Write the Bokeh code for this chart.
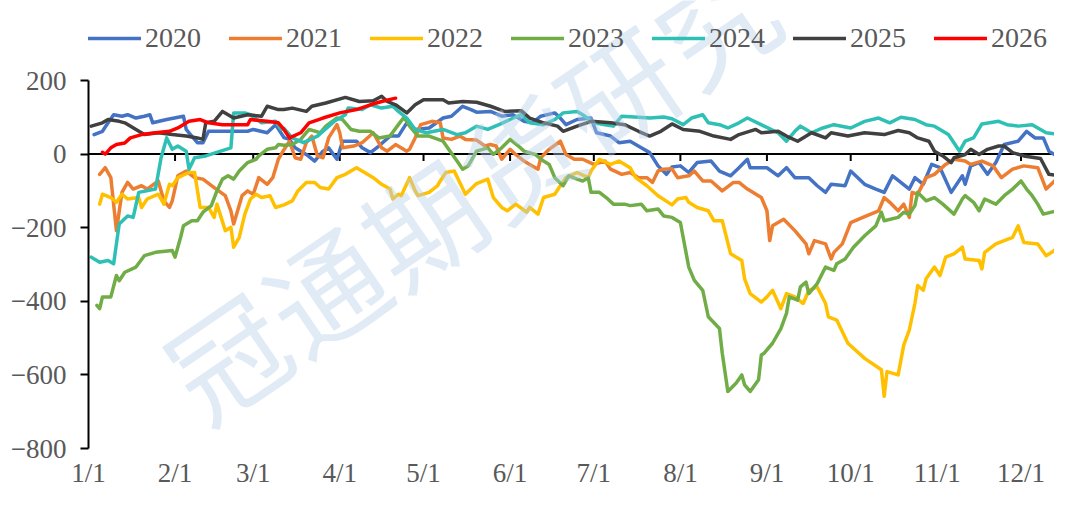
from bokeh.plotting import figure
from bokeh.models import Range1d, FixedTicker, Legend, LegendItem, Span, Label
from bokeh.embed import file_html
from bokeh.resources import INLINE
from bokeh.core.properties import value

# ---- data: x = days since Jan 1, y = spread value ----
years = ["2020", "2021", "2022", "2023", "2024", "2025", "2026"]
colors = ["#4472C4", "#ED7D31", "#FFC000", "#70AD47", "#2EC0B5", "#404040", "#FF0000"]

d2020 = [2,5,7,9,12,14,17,20,22,23,28,34,35,36,39,41,43,50,57,59,64,67,70,72,74,78,81,84,86,89,91,96,98,101,104,108,111,114,117,122,127,130,134,137,139,144,148,152,156,159,162,167,169,171,175,180,182,187,190,194,198,201,204,207,209,212,215,218,223,226,230,233,236,237,243,247,250,253,258,261,264,266,271,273,278,282,285,288,294,296,299,302,305,309,313,314,316,319,322,325,328,333,336,339,342,344,348]
v2020 = [53,62,85,107,103,107,98,103,107,85,94,103,67,58,31,31,62,62,62,67,58,80,45,40,17,-1,-19,8,17,-14,35,35,17,4,22,49,49,85,67,71,98,103,130,121,114,116,103,107,89,85,103,112,98,80,94,98,58,49,31,35,17,4,-32,-55,-35,-32,-50,-23,-19,-46,-59,-37,-14,-37,-37,-59,-37,-64,-64,-86,-104,-82,-86,-46,-82,-95,-104,-59,-95,-64,-82,-28,-37,-104,-59,-82,-32,-23,-55,-23,26,35,62,44,44,8,-10]

d2021 = [4,6,8,10,12,14,16,19,21,25,27,29,30,32,35,38,41,45,49,51,52,55,57,59,61,64,66,68,70,72,74,76,78,80,82,84,86,89,90,91,95,98,102,105,107,110,114,115,117,119,123,126,127,130,133,135,139,142,144,146,148,151,153,156,158,161,162,165,169,171,174,177,181,185,187,191,194,197,200,202,204,206,209,211,215,217,220,223,227,231,233,236,241,243,244,245,249,253,257,258,260,264,266,267,270,273,278,283,285,287,290,292,294,295,297,300,303,307,310,314,316,320,324,327,331,335,340,343,346,348]
v2021 = [-55,-37,-64,-208,-104,-77,-95,-86,-95,-73,-127,-145,-127,-59,-46,-64,-68,-91,-113,-154,-190,-113,-100,-109,-64,-82,-64,-14,12,35,-10,-14,31,49,-5,-10,44,80,58,17,22,31,58,17,8,26,8,13,44,80,89,85,44,40,49,40,38,22,26,22,-14,13,-1,-19,-28,-41,-10,13,35,-1,-14,-14,-28,-19,-41,-55,-50,-64,-64,-77,-46,-41,-40,-64,-59,-46,-73,-73,-100,-77,-77,-95,-118,-154,-235,-195,-177,-208,-244,-271,-235,-244,-285,-267,-244,-186,-170,-154,-118,-131,-154,-136,-172,-104,-109,-64,-55,-28,-14,-19,-28,-19,-32,-64,-41,-32,-37,-95,-73,-64]

d2022 = [4,5,8,10,12,14,18,19,21,25,27,29,30,32,36,38,40,43,45,46,49,51,52,54,56,58,60,62,65,67,70,73,75,78,81,83,86,89,92,96,98,102,105,108,109,111,112,115,117,118,122,125,126,128,131,135,139,143,145,148,150,153,157,158,161,163,167,169,171,175,179,180,183,187,190,194,196,200,204,209,211,214,215,218,222,224,227,230,234,235,237,241,243,245,248,250,253,256,258,261,264,265,268,272,278,284,285,286,290,292,294,296,297,299,300,303,305,307,310,313,314,319,320,321,325,328,331,333,335,340,343,345,348]
v2022 = [-136,-109,-118,-131,-109,-122,-118,-145,-122,-109,-136,-82,-86,-64,-50,-50,-145,-145,-172,-136,-208,-199,-253,-226,-163,-122,-109,-118,-113,-145,-138,-127,-100,-77,-77,-91,-95,-64,-55,-37,-46,-64,-82,-95,-122,-109,-113,-64,-100,-113,-104,-86,-73,-50,-46,-109,-80,-68,-118,-145,-154,-136,-158,-145,-163,-118,-109,-86,-64,-50,-64,-46,-14,-28,-19,-37,-64,-86,-113,-138,-122,-118,-131,-145,-154,-181,-181,-271,-289,-339,-379,-402,-388,-370,-420,-379,-388,-406,-370,-361,-406,-442,-451,-514,-555,-586,-658,-591,-600,-519,-478,-406,-357,-370,-339,-307,-330,-280,-271,-253,-285,-289,-312,-267,-244,-235,-226,-195,-240,-244,-276,-267,-249]

d2023 = [3,4,5,8,10,11,13,17,20,24,30,31,33,34,37,39,41,44,46,48,50,52,54,57,60,61,64,67,68,70,73,76,79,83,85,89,91,94,97,101,104,108,111,113,115,118,122,127,129,132,134,136,139,143,145,148,151,154,156,160,163,165,167,170,172,175,177,179,180,183,186,188,192,194,198,200,204,206,209,212,215,217,220,222,226,227,229,232,234,235,237,240,241,242,245,248,250,251,254,255,257,258,261,264,267,268,271,274,278,282,284,285,290,292,294,296,297,300,303,306,310,313,314,317,319,321,325,328,331,334,336,338,340,342,347,348]
v2023 = [-411,-420,-388,-388,-330,-344,-321,-307,-276,-267,-262,-280,-226,-195,-181,-181,-158,-140,-100,-68,-59,-68,-46,-23,-14,-5,13,17,26,24,26,40,67,58,76,98,94,67,62,62,44,49,80,100,76,49,49,35,13,-19,-41,-32,8,17,-1,17,40,22,8,-1,-19,-28,-64,-86,-59,-68,-73,-64,-104,-104,-122,-136,-136,-140,-136,-154,-149,-168,-172,-186,-307,-343,-370,-442,-474,-541,-645,-622,-600,-627,-645,-613,-546,-541,-514,-474,-433,-388,-397,-361,-348,-379,-352,-307,-316,-298,-285,-253,-222,-195,-158,-181,-172,-158,-163,-140,-104,-127,-118,-136,-163,-122,-113,-131,-154,-122,-136,-113,-95,-73,-95,-113,-136,-163,-154,-217]

d2024 = [1,4,7,9,11,14,16,18,24,26,28,30,32,35,36,38,42,51,52,56,58,62,67,69,70,73,77,82,88,92,93,98,101,105,109,111,114,117,121,127,132,135,139,143,147,151,155,158,163,167,170,175,177,181,185,188,191,197,201,206,209,213,216,220,222,226,229,233,236,242,247,250,253,255,259,263,267,273,278,283,287,291,296,300,303,308,312,314,317,320,326,329,333,338,343,348]
v2024 = [-280,-294,-289,-298,-190,-168,-172,-104,-95,-10,44,13,22,8,-41,-10,-5,17,112,112,107,85,89,67,70,44,31,49,89,107,125,121,134,125,130,116,98,67,58,67,53,58,76,67,80,94,107,85,80,94,112,116,107,85,80,76,103,100,98,101,96,80,98,107,85,80,71,85,98,76,58,35,62,76,58,71,80,71,89,98,85,100,94,80,76,53,8,35,44,82,89,80,76,80,58,53]

d2025 = [1,5,7,11,13,17,20,25,30,35,39,41,42,45,48,52,57,62,64,68,70,73,78,80,85,92,97,102,105,107,110,114,117,120,127,129,134,139,144,149,155,158,163,168,170,175,180,187,192,197,201,205,209,213,219,224,230,233,239,241,247,250,254,259,264,266,272,278,285,290,294,297,301,303,306,309,310,314,316,319,322,326,328,331,335,341,344,348]
v2025 = [76,85,94,89,85,67,53,58,53,49,44,40,85,89,116,98,107,103,130,121,121,125,116,130,139,154,143,145,157,143,134,112,134,148,148,139,143,141,130,116,118,98,85,76,62,76,89,85,80,62,49,62,82,67,62,49,40,53,67,58,62,49,35,58,44,58,49,58,53,64,58,44,35,8,-5,-23,-10,-1,13,-1,13,22,22,4,-5,-12,-55,-59]

d2026 = [5,6,8,10,13,15,19,24,29,32,36,40,43,48,57,58,64,68,70,72,76,79,84,90,96,101,105,110]
v2026 = [5,0,17,26,30,44,53,58,62,71,89,94,85,80,80,94,89,85,67,44,58,85,98,112,121,134,143,152]

series_days = [d2020, d2021, d2022, d2023, d2024, d2025, d2026]
series_vals = [v2020, v2021, v2022, v2023, v2024, v2025, v2026]

month_days = [0, 31, 59, 90, 120, 151, 181, 212, 243, 273, 304, 334]
month_labels = ["1/1", "2/1", "3/1", "4/1", "5/1", "6/1", "7/1", "8/1", "9/1", "10/1", "11/1", "12/1"]
y_ticks = [-800, -600, -400, -200, 0, 200]
Y_MIN, Y_MAX = -800, 200
watermark = "冠通期货研究"

# ---- figure ----
W, H = 1054, 490
B_LEFT, B_BOTTOM = 88, 42
TOP_GAP = 80            # px between the figure top and the y=200 level
frame_h = H - B_BOTTOM  # the frame reaches the top of the figure
px_per_unit = (frame_h - TOP_GAP) / (Y_MAX - Y_MIN)
y_top = Y_MAX + TOP_GAP / px_per_unit
X_END = 346

p = figure(width=W, height=H, output_backend="svg", toolbar_location=None,
           x_range=Range1d(0, X_END), y_range=Range1d(Y_MIN, y_top),
           min_border_left=B_LEFT, min_border_right=0,
           min_border_top=0, min_border_bottom=B_BOTTOM)
p.outline_line_color = None
p.grid.visible = False
p.background_fill_color = "white"

TXT = "#595959"
FONT = "Liberation Serif"

# y axis (line only from -800 to 200)
ya = p.yaxis[0]
ya.ticker = FixedTicker(ticks=y_ticks)
ya.bounds = (Y_MIN, Y_MAX)
ya.major_label_overrides = {t: (str(t).replace("-", "\u2212")) for t in y_ticks}
ya.axis_line_color = "black"
ya.axis_line_width = 2
ya.major_tick_line_color = "black"
ya.major_tick_line_width = 2
ya.major_tick_out = 8
ya.major_tick_in = 0
ya.minor_tick_line_color = None
ya.major_label_standoff = 14
ya.major_label_text_font = FONT
ya.major_label_text_font_size = "27px"
ya.major_label_text_color = TXT

# x axis (labels only)
xa = p.xaxis[0]
xa.ticker = FixedTicker(ticks=month_days)
xa.major_label_overrides = {d: l for d, l in zip(month_days, month_labels)}
xa.axis_line_color = None
xa.major_tick_line_color = None
xa.minor_tick_line_color = None
xa.major_tick_out = 0
xa.major_tick_in = 0
xa.major_label_standoff = 9
xa.major_label_text_font = FONT
xa.major_label_text_font_size = "27px"
xa.major_label_text_color = TXT

# zero line with month ticks hanging below it
p.add_layout(Span(location=0, dimension="width", line_color="black", line_width=2, level="underlay"))
tick_len = 7 / px_per_unit
p.segment(x0=month_days[1:], y0=[0] * (len(month_days) - 1), x1=month_days[1:],
          y1=[-tick_len] * (len(month_days) - 1), line_color="black", line_width=2)

items = []
for yr, c, ds, vs in zip(years, colors, series_days, series_vals):
    r = p.line(ds, vs, line_color=c, line_width=3.5, line_join="round", line_cap="round")
    items.append(LegendItem(label=yr, renderers=[r]))

# legend at the top of the frame: (x, y) is its bottom-left corner from the frame's bottom-left
LEG_TOP, LEG_H = 22, 32
legend = Legend(items=items, orientation="horizontal",
                location=(0, frame_h - LEG_TOP - LEG_H),
                glyph_width=53, glyph_height=20, label_standoff=4, spacing=28,
                padding=0, margin=0, border_line_color=None, background_fill_alpha=0,
                label_text_font=FONT, label_text_font_size="28px", label_text_color=TXT)
p.add_layout(legend)

# watermark (diagonal, semi-transparent)
wm_x0, wm_y0, wm_dx, wm_dy = 49, -541, 35, 181
for i, ch in enumerate(watermark):
    p.add_layout(Label(x=wm_x0 + wm_dx * i, y=wm_y0 + wm_dy * i, text=ch, angle=0.60,
                       text_font="Noto Sans CJK SC", text_font_size="116px",
                       text_align="center", text_baseline="middle",
                       text_color="#B4CFEA", text_alpha=0.42))

open("out.html", "w").write(file_html(p, INLINE))
